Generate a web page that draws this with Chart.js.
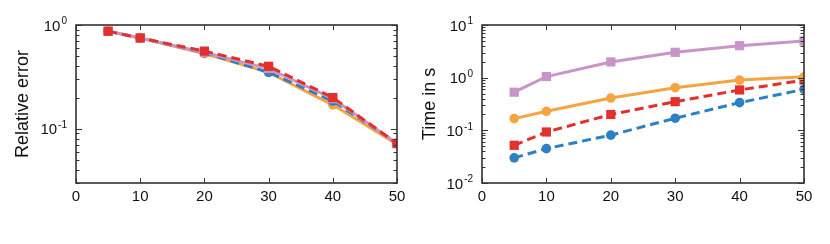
<!DOCTYPE html>
<html><head><meta charset="utf-8">
<script src="https://cdn.jsdelivr.net/npm/chart.js@4.4.0/dist/chart.umd.min.js"></script>
<style>
html,body{margin:0;padding:0;background:#fff;}
#wrap{position:relative;width:830px;height:244px;background:#fff;}
canvas{position:absolute;top:0;}
</style></head><body>
<div id="wrap">
<canvas id="c1" width="415" height="244" style="left:0"></canvas>
<canvas id="c2" width="415" height="244" style="left:415px"></canvas>
</div>
<script>
// ---- data ----
const sizes = [5, 10, 20, 30, 40, 50];
const xTickValues = [0, 10, 20, 30, 40, 50];

// Left panel: relative error
const errRed    = [0.87, 0.75, 0.56, 0.40, 0.20, 0.072];
const errPurple = [0.87, 0.75, 0.545, 0.38, 0.195, 0.072];
const errBlue   = [0.87, 0.75, 0.54, 0.35, 0.185, 0.073];
const errOrange = [0.87, 0.75, 0.53, 0.35, 0.17, 0.071];
const errTickExps = [0, -1];

// Right panel: time in s
const timePurple = [0.53, 1.05, 1.99, 3.03, 4.05, 4.97];
const timeOrange = [0.167, 0.23, 0.41, 0.645, 0.90, 1.04];
const timeRed    = [0.052, 0.093, 0.20, 0.35, 0.585, 0.90];
const timeBlue   = [0.030, 0.045, 0.081, 0.17, 0.336, 0.60];
const timeTickExps = [1, 0, -1, -2];

// ---- styles ----
const C = { blue:'#2f80c2', orange:'#f5a440', red:'#e3302c', purple:'#c994c8' };
const FONT = '"Liberation Sans", Arial, Helvetica, sans-serif';

function pts(vals){ return sizes.map((x,i)=>({x:x, y:vals[i]})); }
function ds(vals, color, dashed, style){
  return {
    data: pts(vals), borderColor: color, backgroundColor: color,
    borderWidth: 3, borderDash: dashed ? [9,5] : [],
    pointStyle: style, pointRadius: style === 'rect' ? 6.5 : 4.8,
    pointBackgroundColor: color, pointBorderWidth: 0,
    tension: 0, clip: 0, fill: false
  };
}

const framePlugin = {
  id: 'frame',
  afterDraw(chart, args, opts){
    const ctx = chart.ctx, a = chart.chartArea;
    const xs = chart.scales.x, ys = chart.scales.y;
    ctx.save();
    ctx.strokeStyle = '#333'; ctx.fillStyle = '#111';
    // ticks
    ctx.lineWidth = 1;
    ctx.beginPath();
    xTickValues.forEach(v=>{
      const px = Math.round(xs.getPixelForValue(v)) + 0.5;
      ctx.moveTo(px, a.bottom); ctx.lineTo(px, a.bottom - 5);
      ctx.moveTo(px, a.top); ctx.lineTo(px, a.top + 5);
    });
    const lo = Math.floor(Math.log10(ys.min)), hi = Math.ceil(Math.log10(ys.max));
    for (let d = lo; d <= hi; d++){
      for (let m = 1; m <= 9; m++){
        const v = m * Math.pow(10, d);
        if (v < ys.min * 0.999 || v > ys.max * 1.001) continue;
        const py = Math.round(ys.getPixelForValue(v)) + 0.5;
        const len = m === 1 ? 6 : 3.5;
        ctx.moveTo(a.left, py); ctx.lineTo(a.left + len, py);
        ctx.moveTo(a.right, py); ctx.lineTo(a.right - len, py);
      }
    }
    ctx.stroke();
    // frame
    ctx.lineWidth = 1.6;
    ctx.strokeRect(a.left, a.top, a.right - a.left, a.bottom - a.top);
    // x labels
    ctx.font = '15px ' + FONT;
    ctx.textAlign = 'center'; ctx.textBaseline = 'middle';
    xTickValues.forEach(v=>{
      ctx.fillText(String(v), xs.getPixelForValue(v), a.bottom + 14);
    });
    // y labels with superscript exponents
    opts.exps.forEach(e=>{
      const py = ys.getPixelForValue(Math.pow(10, e));
      const base = '10', sup = String(e);
      ctx.font = '15px ' + FONT;
      const wb = ctx.measureText(base).width;
      ctx.font = '10px ' + FONT;
      const ws = ctx.measureText(sup).width;
      const right = a.left - 9;
      ctx.textAlign = 'left';
      ctx.font = '15px ' + FONT;
      ctx.fillText(base, right - wb - ws - 1, py + 1.5);
      ctx.font = '10px ' + FONT;
      ctx.fillText(sup, right - ws, py - 3.5);
    });
    // axis title
    ctx.save();
    ctx.translate(opts.titleX, (a.top + a.bottom) / 2);
    ctx.rotate(-Math.PI / 2);
    ctx.font = '18px ' + FONT;
    ctx.textAlign = 'center'; ctx.textBaseline = 'middle';
    ctx.fillText(opts.title, 0, 0);
    ctx.restore();
    ctx.restore();
  }
};

function makeChart(id, datasets, yMin, yMax, leftW, rightPad, exps, title, titleX){
  return new Chart(document.getElementById(id), {
    type: 'line',
    data: { datasets },
    plugins: [framePlugin],
    options: {
      responsive: false, animation: false, devicePixelRatio: 1,
      layout: { padding: { left: 0, right: rightPad, top: 25, bottom: 0 } },
      plugins: { legend: { display: false }, tooltip: { enabled: false },
                 frame: { exps, title, titleX } },
      scales: {
        x: { type: 'linear', min: 0, max: 50,
             grid: { display: false }, border: { display: false },
             ticks: { display: false }, afterFit: s => { s.height = 61; } },
        y: { type: 'logarithmic', min: yMin, max: yMax,
             grid: { display: false }, border: { display: false },
             ticks: { display: false }, afterFit: s => { s.width = leftW; } }
      }
    }
  });
}

makeChart('c1', [
  ds(errRed, C.red, true, 'rect'),
  ds(errPurple, C.purple, false, 'rect'),
  ds(errBlue, C.blue, true, 'circle'),
  ds(errOrange, C.orange, false, 'circle')
], 0.03, 1, 76, 18, errTickExps, 'Relative error', 23);

makeChart('c2', [
  ds(timePurple, C.purple, false, 'rect'),
  ds(timeOrange, C.orange, false, 'circle'),
  ds(timeRed, C.red, true, 'rect'),
  ds(timeBlue, C.blue, true, 'circle')
], 0.01, 10, 67, 26, timeTickExps, 'Time in s', 15);
</script>
</body></html>
